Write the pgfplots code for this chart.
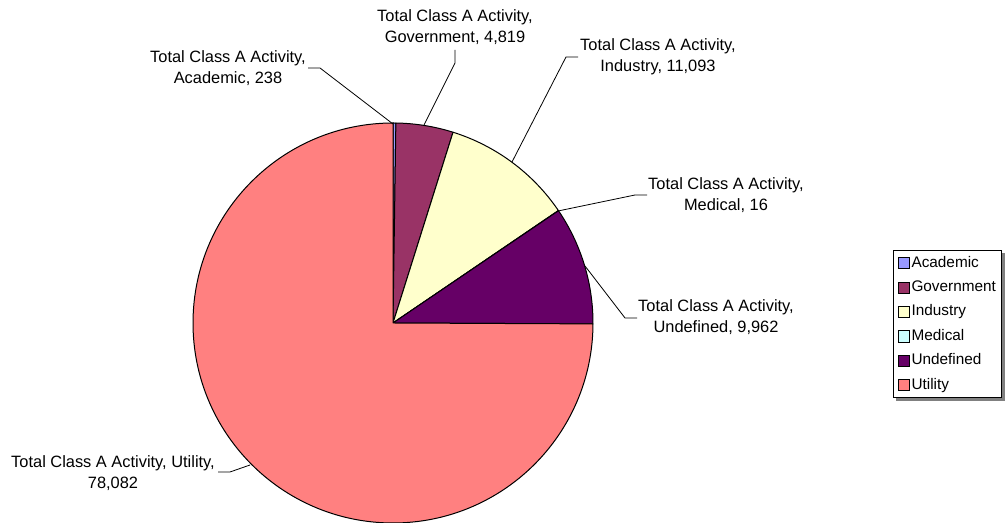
\documentclass[border=0pt]{standalone}
\usepackage{fontspec}
\setmainfont{Liberation Sans}
\usepackage{pgfplots}
\pgfplotsset{compat=1.18}
\usetikzlibrary{backgrounds}

\definecolor{cAca}{HTML}{9999FF}
\definecolor{cGov}{HTML}{993366}
\definecolor{cInd}{HTML}{FFFFCC}
\definecolor{cMed}{HTML}{CCFFFF}
\definecolor{cUnd}{HTML}{660066}
\definecolor{cUti}{HTML}{FF8080}

% slice values
\def\vAca{238}
\def\vGov{4819}
\def\vInd{11093}
\def\vMed{16}
\def\vUnd{9962}
\def\vUti{78082}
\edef\tot{\fpeval{\vAca+\vGov+\vInd+\vMed+\vUnd+\vUti}}
% cumulative angles, clockwise from the top
\edef\aA{90}
\edef\aB{\fpeval{round(\aA-360*\vAca/\tot,4)}}
\edef\aC{\fpeval{round(\aB-360*\vGov/\tot,4)}}
\edef\aD{\fpeval{round(\aC-360*\vInd/\tot,4)}}
\edef\aE{\fpeval{round(\aD-360*\vMed/\tot,4)}}
\edef\aF{\fpeval{round(\aE-360*\vUnd/\tot,4)}}
\edef\aG{\fpeval{round(\aF-360*\vUti/\tot,4)}}

\newcommand\slice[3]{%
  \filldraw[fill=#3,draw=black,line width=0.75pt,line join=round]
    (axis cs:393,200) -- ++(#1:150pt) arc[start angle=#1,end angle=#2,radius=150pt] -- cycle;}
\newcommand\labfont{\fontsize{12.3}{15.6}\selectfont}

\begin{document}
\begin{tikzpicture}
\begin{axis}[
  x=0.75pt, y=0.75pt, scale only axis,
  xmin=0, xmax=1006, ymin=0, ymax=523,
  hide axis, clip=false,
  legend style={name=leg, at={(0.8877,0.522)}, anchor=north west, draw=black, line width=0.75pt,
    fill=white, font=\fontsize{11.5}{13}\selectfont, inner xsep=3pt, inner ysep=4pt,
    row sep=7.4pt,
    nodes={inner xsep=1.5pt, inner ysep=0pt, text height=8.5pt, text depth=2.4pt}},
  legend cell align=left,
  legend image code/.code={\draw[#1,draw=black,line width=0.5pt] (0pt,-4.2pt) rectangle (8.5pt,4.2pt);},
]
\slice{\aA}{\aB}{cAca}
\slice{\aB}{\aC}{cGov}
\slice{\aC}{\aD}{cInd}
\slice{\aD}{\aE}{cMed}
\slice{\aE}{\aF}{cUnd}
\slice{\aF}{\aG}{cUti}

% leader lines
\draw[line width=0.6pt] (axis cs:308,455) -- (axis cs:320,455) -- (axis cs:393,399);
\draw[line width=0.6pt] (axis cs:455,473) -- (axis cs:455,460) -- (axis cs:424,398);
\draw[line width=0.6pt] (axis cs:578,466) -- (axis cs:566,466) -- (axis cs:512,361);
\draw[line width=0.6pt] (axis cs:647,328) -- (axis cs:635,328) -- (axis cs:558,312);
\draw[line width=0.6pt] (axis cs:637,205) -- (axis cs:625,205) -- (axis cs:585,257);
\draw[line width=0.6pt] (axis cs:218,51) -- (axis cs:230,51) -- (axis cs:250,58);

% data labels
\node[align=center,font=\labfont] at (axis cs:228,455) {Total Class A Activity,\\Academic, 238};
\node[align=center,font=\labfont] at (axis cs:455,496) {Total Class A Activity,\\Government, 4,819};
\node[align=center,font=\labfont] at (axis cs:658,466) {Total Class A Activity,\\Industry, 11,093};
\node[align=center,font=\labfont] at (axis cs:726,328) {Total Class A Activity,\\Medical, 16};
\node[align=center,font=\labfont] at (axis cs:716,205.5) {Total Class A Activity,\\Undefined, 9,962};
\node[align=center,font=\labfont] at (axis cs:113,50) {Total Class A Activity, Utility,\\78,082};

\addlegendimage{fill=cAca}\addlegendentry{Academic}
\addlegendimage{fill=cGov}\addlegendentry{Government}
\addlegendimage{fill=cInd}\addlegendentry{Industry}
\addlegendimage{fill=cMed}\addlegendentry{Medical}
\addlegendimage{fill=cUnd}\addlegendentry{Undefined}
\addlegendimage{fill=cUti}\addlegendentry{Utility}
\end{axis}
% legend shadow
\begin{scope}[on background layer]
\fill[black!50] ([shift={(2.2pt,-2.2pt)}]leg.south west) rectangle ([shift={(2.2pt,-2.2pt)}]leg.north east);
\end{scope}
\pgfresetboundingbox
\path (current axis.south west) rectangle (current axis.north east);
\end{tikzpicture}
\end{document}
